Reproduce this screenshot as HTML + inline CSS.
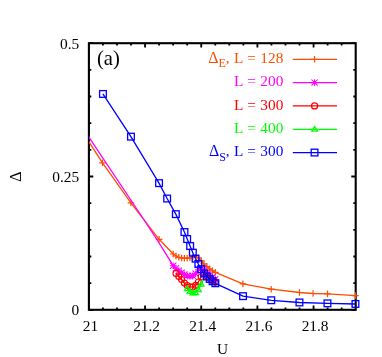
<!DOCTYPE html>
<html><head><meta charset="utf-8"><title>fig</title>
<style>html,body{margin:0;padding:0;background:#fff}svg{display:block;will-change:transform}text{font-family:"Liberation Serif",serif;}</style></head><body>
<svg width="382" height="357" viewBox="0 0 382 357">
<rect width="382" height="357" fill="#fff"/>
<defs><clipPath id="cl"><rect x="88.9" y="30" width="290" height="300"/></clipPath></defs>
<path d="M88.90 309.8v-4.4M88.90 43.2v4.4M102.94 309.8v-2.4M102.94 43.2v2.4M116.98 309.8v-2.4M116.98 43.2v2.4M131.03 309.8v-2.4M131.03 43.2v2.4M145.07 309.8v-4.4M145.07 43.2v4.4M159.11 309.8v-2.4M159.11 43.2v2.4M173.15 309.8v-2.4M173.15 43.2v2.4M187.19 309.8v-2.4M187.19 43.2v2.4M201.24 309.8v-4.4M201.24 43.2v4.4M215.28 309.8v-2.4M215.28 43.2v2.4M229.32 309.8v-2.4M229.32 43.2v2.4M243.36 309.8v-2.4M243.36 43.2v2.4M257.41 309.8v-4.4M257.41 43.2v4.4M271.45 309.8v-2.4M271.45 43.2v2.4M285.49 309.8v-2.4M285.49 43.2v2.4M299.53 309.8v-2.4M299.53 43.2v2.4M313.57 309.8v-4.4M313.57 43.2v4.4M327.62 309.8v-2.4M327.62 43.2v2.4M341.66 309.8v-2.4M341.66 43.2v2.4M88.9 309.80h4.4M355.7 309.80h-4.4M88.9 283.14h2.4M355.7 283.14h-2.4M88.9 256.48h2.4M355.7 256.48h-2.4M88.9 229.82h2.4M355.7 229.82h-2.4M88.9 203.16h2.4M355.7 203.16h-2.4M88.9 176.50h4.4M355.7 176.50h-4.4M88.9 149.84h2.4M355.7 149.84h-2.4M88.9 123.18h2.4M355.7 123.18h-2.4M88.9 96.52h2.4M355.7 96.52h-2.4M88.9 69.86h2.4M355.7 69.86h-2.4M88.9 43.20h4.4M355.7 43.20h-4.4" stroke="#000" stroke-width="1.8" fill="none"/>
<rect x="88.9" y="43.2" width="266.8" height="266.6" fill="none" stroke="#000" stroke-width="2.1"/>
<text x="90.4" y="331.0" font-size="15.4" text-anchor="middle">21</text>
<text x="146.6" y="331.0" font-size="15.4" text-anchor="middle">21.2</text>
<text x="202.7" y="331.0" font-size="15.4" text-anchor="middle">21.4</text>
<text x="258.9" y="331.0" font-size="15.4" text-anchor="middle">21.6</text>
<text x="315.1" y="331.0" font-size="15.4" text-anchor="middle">21.8</text>
<text x="79.2" y="315.4" font-size="15.4" text-anchor="end">0</text>
<text x="79.2" y="182.1" font-size="15.4" text-anchor="end">0.25</text>
<text x="79.2" y="48.8" font-size="15.4" text-anchor="end">0.5</text>
<text x="222.6" y="354.3" font-size="15.4" text-anchor="middle">U</text>
<text transform="translate(21.0,176.6) rotate(-90)" font-size="16" text-anchor="middle">&#916;</text>
<text x="97.0" y="65.2" font-size="20.6">(a)</text>
<text x="283.3" y="62.9" font-size="15.3" text-anchor="end" word-spacing="0.6" fill="#ff4d00"><tspan font-size="15.9">&#916;</tspan><tspan dy="4.3" font-size="12.0">E</tspan><tspan dy="-4.3">, L = </tspan>128</text>
<text x="283.3" y="86.19999999999999" font-size="15.3" text-anchor="end" word-spacing="0.6" fill="#ff00ff">L = 200</text>
<text x="283.3" y="109.5" font-size="15.3" text-anchor="end" word-spacing="0.6" fill="#ff0000">L = 300</text>
<text x="283.3" y="133.0" font-size="15.3" text-anchor="end" word-spacing="0.6" fill="#00ff00">L = 400</text>
<text x="283.3" y="156.2" font-size="15.3" text-anchor="end" word-spacing="0.6" fill="#0000ff"><tspan font-size="15.9">&#916;</tspan><tspan dy="4.3" font-size="12.0">S</tspan><tspan dy="-4.3">, L = </tspan>300</text>
<path d="M292.8 59.3H337" stroke="#ff4d00" stroke-width="1.15"/><path d="M311.3 59.3H317.9M314.6 56.0V62.6" stroke="#ff4d00" stroke-width="1.2" fill="none"/>
<path d="M292.8 82.6H337" stroke="#ff00ff" stroke-width="1.15"/><path d="M311.3 82.6H317.9M314.6 79.3V85.9M311.5 79.5L317.7 85.7M311.5 85.7L317.7 79.5" stroke="#ff00ff" stroke-width="1.05" fill="none"/>
<path d="M292.8 105.9H337" stroke="#ff0000" stroke-width="1.15"/><circle cx="314.6" cy="105.9" r="3.05" stroke="#ff0000" stroke-width="1.25" fill="none"/>
<path d="M292.8 129.4H337" stroke="#00ff00" stroke-width="1.15"/><path d="M314.6 126.5L317.4 131.2H311.8Z" stroke="#00ff00" stroke-width="1.3" fill="none" stroke-linejoin="miter"/>
<path d="M292.8 152.6H337" stroke="#0000ff" stroke-width="1.15"/><rect x="311.2" y="149.2" width="6.7" height="6.7" stroke="#0000ff" stroke-width="1.3" fill="none"/>
<g clip-path="url(#cl)">
<polyline points="75.0,119.5 88.9,141.8 102.5,162.8 130.9,202.8 159.1,239.3 173.2,254.0 176.0,256.0 178.8,257.3 181.6,258.0 184.4,258.2 187.2,258.1 190.0,257.8 192.8,257.4 195.6,257.2 198.4,257.9 201.2,260.8 204.0,263.9 206.9,266.6 209.7,268.8 212.5,270.8 215.3,272.4 242.9,283.9 271.2,289.2 299.5,292.5 313.1,293.5 327.5,293.9 355.5,295.6" fill="none" stroke="#ff4d00" stroke-width="1.3" stroke-linejoin="round"/>
<path d="M99.2 162.8H105.8M102.5 159.5V166.1" stroke="#ff4d00" stroke-width="1.2" fill="none"/><path d="M127.6 202.8H134.2M130.9 199.5V206.1" stroke="#ff4d00" stroke-width="1.2" fill="none"/><path d="M155.8 239.3H162.4M159.1 236.0V242.6" stroke="#ff4d00" stroke-width="1.2" fill="none"/><path d="M169.9 254.0H176.5M173.2 250.7V257.3" stroke="#ff4d00" stroke-width="1.2" fill="none"/><path d="M172.7 256.0H179.3M176.0 252.7V259.3" stroke="#ff4d00" stroke-width="1.2" fill="none"/><path d="M175.5 257.3H182.1M178.8 254.0V260.6" stroke="#ff4d00" stroke-width="1.2" fill="none"/><path d="M178.3 258.0H184.9M181.6 254.7V261.3" stroke="#ff4d00" stroke-width="1.2" fill="none"/><path d="M181.1 258.2H187.7M184.4 254.9V261.5" stroke="#ff4d00" stroke-width="1.2" fill="none"/><path d="M183.9 258.1H190.5M187.2 254.8V261.4" stroke="#ff4d00" stroke-width="1.2" fill="none"/><path d="M186.7 257.8H193.3M190.0 254.5V261.1" stroke="#ff4d00" stroke-width="1.2" fill="none"/><path d="M189.5 257.4H196.1M192.8 254.1V260.7" stroke="#ff4d00" stroke-width="1.2" fill="none"/><path d="M192.3 257.2H198.9M195.6 253.9V260.5" stroke="#ff4d00" stroke-width="1.2" fill="none"/><path d="M195.1 257.9H201.7M198.4 254.6V261.2" stroke="#ff4d00" stroke-width="1.2" fill="none"/><path d="M197.9 260.8H204.5M201.2 257.5V264.1" stroke="#ff4d00" stroke-width="1.2" fill="none"/><path d="M200.7 263.9H207.3M204.0 260.6V267.2" stroke="#ff4d00" stroke-width="1.2" fill="none"/><path d="M203.6 266.6H210.2M206.9 263.3V269.9" stroke="#ff4d00" stroke-width="1.2" fill="none"/><path d="M206.4 268.8H213.0M209.7 265.5V272.1" stroke="#ff4d00" stroke-width="1.2" fill="none"/><path d="M209.2 270.8H215.8M212.5 267.5V274.1" stroke="#ff4d00" stroke-width="1.2" fill="none"/><path d="M212.0 272.4H218.6M215.3 269.1V275.7" stroke="#ff4d00" stroke-width="1.2" fill="none"/><path d="M239.6 283.9H246.2M242.9 280.6V287.2" stroke="#ff4d00" stroke-width="1.2" fill="none"/><path d="M267.9 289.2H274.5M271.2 285.9V292.5" stroke="#ff4d00" stroke-width="1.2" fill="none"/><path d="M296.2 292.5H302.8M299.5 289.2V295.8" stroke="#ff4d00" stroke-width="1.2" fill="none"/><path d="M309.8 293.5H316.4M313.1 290.2V296.8" stroke="#ff4d00" stroke-width="1.2" fill="none"/><path d="M324.2 293.9H330.8M327.5 290.6V297.2" stroke="#ff4d00" stroke-width="1.2" fill="none"/><path d="M352.2 295.6H358.8M355.5 292.3V298.9" stroke="#ff4d00" stroke-width="1.2" fill="none"/>
<polyline points="60.0,94.0 88.9,137.2 141.5,216.0 157.0,239.7 173.2,265.7 176.0,268.3 178.8,270.7 181.6,272.8 184.4,274.5 187.2,275.8 190.0,276.3 192.8,275.7 195.6,273.7 198.4,269.2 201.2,268.2 204.0,269.7 206.9,272.5 209.7,275.1 212.5,277.3 215.3,279.2" fill="none" stroke="#ff00ff" stroke-width="1.3" stroke-linejoin="round"/>
<path d="M169.9 265.7H176.5M173.2 262.4V269.0M170.0 262.6L176.3 268.9M170.0 268.9L176.3 262.6" stroke="#ff00ff" stroke-width="1.05" fill="none"/><path d="M172.7 268.3H179.3M176.0 265.0V271.6M172.8 265.2L179.1 271.5M172.8 271.5L179.1 265.2" stroke="#ff00ff" stroke-width="1.05" fill="none"/><path d="M175.5 270.7H182.1M178.8 267.4V274.0M175.6 267.6L181.9 273.8M175.6 273.8L181.9 267.6" stroke="#ff00ff" stroke-width="1.05" fill="none"/><path d="M178.3 272.8H184.9M181.6 269.5V276.1M178.4 269.6L184.7 275.9M178.4 275.9L184.7 269.6" stroke="#ff00ff" stroke-width="1.05" fill="none"/><path d="M181.1 274.5H187.7M184.4 271.2V277.8M181.3 271.3L187.5 277.6M181.3 277.6L187.5 271.3" stroke="#ff00ff" stroke-width="1.05" fill="none"/><path d="M183.9 275.8H190.5M187.2 272.5V279.1M184.1 272.6L190.3 278.9M184.1 278.9L190.3 272.6" stroke="#ff00ff" stroke-width="1.05" fill="none"/><path d="M186.7 276.3H193.3M190.0 273.0V279.6M186.9 273.2L193.1 279.4M186.9 279.4L193.1 273.2" stroke="#ff00ff" stroke-width="1.05" fill="none"/><path d="M189.5 275.7H196.1M192.8 272.4V279.0M189.7 272.6L195.9 278.9M189.7 278.9L195.9 272.6" stroke="#ff00ff" stroke-width="1.05" fill="none"/><path d="M192.3 273.7H198.9M195.6 270.4V277.0M192.5 270.5L198.8 276.8M192.5 276.8L198.8 270.5" stroke="#ff00ff" stroke-width="1.05" fill="none"/><path d="M195.1 269.2H201.7M198.4 265.9V272.5M195.3 266.1L201.6 272.3M195.3 272.3L201.6 266.1" stroke="#ff00ff" stroke-width="1.05" fill="none"/><path d="M197.9 268.2H204.5M201.2 264.9V271.5M198.1 265.0L204.4 271.3M198.1 271.3L204.4 265.0" stroke="#ff00ff" stroke-width="1.05" fill="none"/><path d="M200.7 269.7H207.3M204.0 266.4V273.0M200.9 266.5L207.2 272.8M200.9 272.8L207.2 266.5" stroke="#ff00ff" stroke-width="1.05" fill="none"/><path d="M203.6 272.5H210.2M206.9 269.2V275.8M203.7 269.4L210.0 275.7M203.7 275.7L210.0 269.4" stroke="#ff00ff" stroke-width="1.05" fill="none"/><path d="M206.4 275.1H213.0M209.7 271.8V278.4M206.5 271.9L212.8 278.2M206.5 278.2L212.8 271.9" stroke="#ff00ff" stroke-width="1.05" fill="none"/><path d="M209.2 277.3H215.8M212.5 274.0V280.6M209.3 274.1L215.6 280.4M209.3 280.4L215.6 274.1" stroke="#ff00ff" stroke-width="1.05" fill="none"/><path d="M212.0 279.2H218.6M215.3 275.9V282.5M212.1 276.1L218.4 282.4M212.1 282.4L218.4 276.1" stroke="#ff00ff" stroke-width="1.05" fill="none"/>
<polyline points="176.0,273.4 178.8,276.5 181.6,279.5 184.4,283.1 187.2,285.5 190.0,286.9 192.8,287.1 195.6,285.3 198.4,282.0 201.2,276.7 204.0,273.7 206.9,276.1 209.7,278.6 212.5,280.8 215.3,282.3" fill="none" stroke="#ff0000" stroke-width="1.3" stroke-linejoin="round"/>
<circle cx="176.0" cy="273.4" r="3.0" stroke="#ff0000" stroke-width="1.15" fill="none"/><circle cx="178.8" cy="276.5" r="3.0" stroke="#ff0000" stroke-width="1.15" fill="none"/><circle cx="181.6" cy="279.5" r="3.0" stroke="#ff0000" stroke-width="1.15" fill="none"/><circle cx="184.4" cy="283.1" r="3.0" stroke="#ff0000" stroke-width="1.15" fill="none"/><circle cx="187.2" cy="285.5" r="3.0" stroke="#ff0000" stroke-width="1.15" fill="none"/><circle cx="190.0" cy="286.9" r="3.0" stroke="#ff0000" stroke-width="1.15" fill="none"/><circle cx="192.8" cy="287.1" r="3.0" stroke="#ff0000" stroke-width="1.15" fill="none"/><circle cx="195.6" cy="285.3" r="3.0" stroke="#ff0000" stroke-width="1.15" fill="none"/><circle cx="198.4" cy="282.0" r="3.0" stroke="#ff0000" stroke-width="1.15" fill="none"/><circle cx="201.2" cy="276.7" r="3.0" stroke="#ff0000" stroke-width="1.15" fill="none"/><circle cx="204.0" cy="273.7" r="3.0" stroke="#ff0000" stroke-width="1.15" fill="none"/><circle cx="206.9" cy="276.1" r="3.0" stroke="#ff0000" stroke-width="1.15" fill="none"/><circle cx="209.7" cy="278.6" r="3.0" stroke="#ff0000" stroke-width="1.15" fill="none"/><circle cx="212.5" cy="280.8" r="3.0" stroke="#ff0000" stroke-width="1.15" fill="none"/><circle cx="215.3" cy="282.3" r="3.0" stroke="#ff0000" stroke-width="1.15" fill="none"/>
<polyline points="187.2,288.8 190.0,291.6 192.8,293.2 195.6,292.9 198.4,289.8 201.2,284.4 204.0,277.5" fill="none" stroke="#00ff00" stroke-width="1.3" stroke-linejoin="round"/>
<path d="M187.2 285.9L190.0 290.6H184.4Z" stroke="#00ff00" stroke-width="1.3" fill="none" stroke-linejoin="miter"/><path d="M190.0 288.7L192.8 293.4H187.2Z" stroke="#00ff00" stroke-width="1.3" fill="none" stroke-linejoin="miter"/><path d="M192.8 290.3L195.6 294.9H190.0Z" stroke="#00ff00" stroke-width="1.3" fill="none" stroke-linejoin="miter"/><path d="M195.6 290.0L198.4 294.6H192.8Z" stroke="#00ff00" stroke-width="1.3" fill="none" stroke-linejoin="miter"/><path d="M198.4 286.9L201.2 291.6H195.6Z" stroke="#00ff00" stroke-width="1.3" fill="none" stroke-linejoin="miter"/><path d="M201.2 281.5L204.0 286.1H198.4Z" stroke="#00ff00" stroke-width="1.3" fill="none" stroke-linejoin="miter"/>
<polyline points="102.9,93.9 130.9,136.7 159.0,183.1 167.1,198.5 175.8,214.1 184.4,232.0 187.2,239.0 190.1,246.0 192.8,252.7 195.5,258.6 198.3,264.0 201.2,269.2 204.1,273.5 206.9,276.5 209.7,279.0 212.5,281.3 215.3,283.3 243.0,296.1 271.3,300.3 299.5,302.5 327.5,303.4 355.5,304.0" fill="none" stroke="#0000ff" stroke-width="1.3" stroke-linejoin="round"/>
<rect x="99.6" y="90.6" width="6.7" height="6.7" stroke="#0000ff" stroke-width="1.3" fill="none"/><rect x="127.6" y="133.3" width="6.7" height="6.7" stroke="#0000ff" stroke-width="1.3" fill="none"/><rect x="155.7" y="179.8" width="6.7" height="6.7" stroke="#0000ff" stroke-width="1.3" fill="none"/><rect x="163.8" y="195.2" width="6.7" height="6.7" stroke="#0000ff" stroke-width="1.3" fill="none"/><rect x="172.5" y="210.8" width="6.7" height="6.7" stroke="#0000ff" stroke-width="1.3" fill="none"/><rect x="181.1" y="228.7" width="6.7" height="6.7" stroke="#0000ff" stroke-width="1.3" fill="none"/><rect x="183.8" y="235.7" width="6.7" height="6.7" stroke="#0000ff" stroke-width="1.3" fill="none"/><rect x="186.8" y="242.7" width="6.7" height="6.7" stroke="#0000ff" stroke-width="1.3" fill="none"/><rect x="189.5" y="249.3" width="6.7" height="6.7" stroke="#0000ff" stroke-width="1.3" fill="none"/><rect x="192.2" y="255.3" width="6.7" height="6.7" stroke="#0000ff" stroke-width="1.3" fill="none"/><rect x="195.0" y="260.6" width="6.7" height="6.7" stroke="#0000ff" stroke-width="1.3" fill="none"/><rect x="197.8" y="265.8" width="6.7" height="6.7" stroke="#0000ff" stroke-width="1.3" fill="none"/><rect x="200.8" y="270.1" width="6.7" height="6.7" stroke="#0000ff" stroke-width="1.3" fill="none"/><rect x="203.6" y="273.1" width="6.7" height="6.7" stroke="#0000ff" stroke-width="1.3" fill="none"/><rect x="206.3" y="275.6" width="6.7" height="6.7" stroke="#0000ff" stroke-width="1.3" fill="none"/><rect x="209.2" y="277.9" width="6.7" height="6.7" stroke="#0000ff" stroke-width="1.3" fill="none"/><rect x="212.0" y="279.9" width="6.7" height="6.7" stroke="#0000ff" stroke-width="1.3" fill="none"/><rect x="239.7" y="292.8" width="6.7" height="6.7" stroke="#0000ff" stroke-width="1.3" fill="none"/><rect x="267.9" y="296.9" width="6.7" height="6.7" stroke="#0000ff" stroke-width="1.3" fill="none"/><rect x="296.1" y="299.1" width="6.7" height="6.7" stroke="#0000ff" stroke-width="1.3" fill="none"/><rect x="324.1" y="300.0" width="6.7" height="6.7" stroke="#0000ff" stroke-width="1.3" fill="none"/><rect x="352.1" y="300.6" width="6.7" height="6.7" stroke="#0000ff" stroke-width="1.3" fill="none"/>
</g>
</svg></body></html>
